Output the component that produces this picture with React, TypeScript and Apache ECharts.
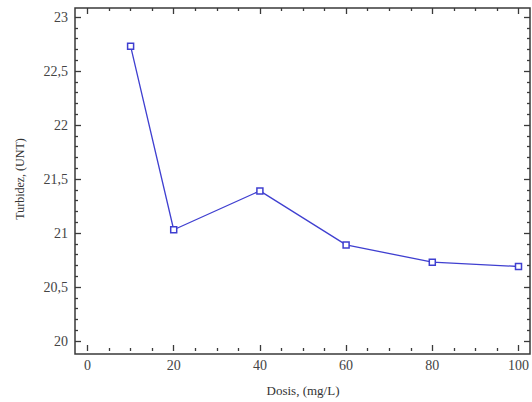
import React, { useEffect, useRef } from "react";
import * as echarts from "echarts";

const dosis = [10, 20, 40, 60, 80, 100];
const turbidez = [22.73, 21.03, 21.39, 20.89, 20.73, 20.69];
const xTicks = { min: 0, max: 100, interval: 20 };
const yTicks = { min: 20, max: 23, interval: 0.5 };

const FONT = "'Liberation Serif', 'DejaVu Serif', serif";
const AXIS = "#3a3a3a";
const LINE = "#3f3fd0";

export default function App() {
  const ref = useRef<HTMLDivElement>(null);
  useEffect(() => {
    if (!ref.current) return;
    const chart = echarts.init(ref.current, null, { renderer: "svg" });
    const fmt = (v: number) => String(v).replace(".", ",");
    const tickStyle = { color: AXIS, width: 1.3 };
    const hiddenLine = { show: false, onZero: false };
    chart.setOption({
      animation: false,
      backgroundColor: "#ffffff",
      grid: [
        { left: 87.5, right: 13.5, top: 17, bottom: 58, show: false },
        {
          left: 75,
          right: 2,
          top: 8,
          bottom: 48,
          show: true,
          borderColor: AXIS,
          borderWidth: 1.5,
          backgroundColor: "transparent",
        },
      ],
      xAxis: [
        {
          type: "value",
          gridIndex: 0,
          position: "bottom",
          offset: 10,
          min: xTicks.min,
          max: xTicks.max,
          interval: xTicks.interval,
          axisLine: hiddenLine,
          axisTick: { show: true, inside: true, length: 6, lineStyle: tickStyle },
          minorTick: { show: true, splitNumber: 4, length: 3, lineStyle: tickStyle },
          splitLine: { show: false },
          axisLabel: { color: "#444", fontFamily: FONT, fontSize: 14, margin: 7 },
          name: "Dosis, (mg/L)",
          nameLocation: "middle",
          nameGap: 33,
          nameTextStyle: { color: "#333", fontFamily: FONT, fontSize: 13 },
        },
        {
          type: "value",
          gridIndex: 0,
          position: "top",
          offset: 9,
          min: xTicks.min,
          max: xTicks.max,
          interval: xTicks.interval,
          axisLine: hiddenLine,
          axisTick: { show: true, inside: true, length: 6, lineStyle: tickStyle },
          minorTick: { show: true, splitNumber: 4, length: 3, lineStyle: tickStyle },
          splitLine: { show: false },
          axisLabel: { show: false },
        },
        { type: "value", gridIndex: 1, show: false, min: 0, max: 1 },
      ],
      yAxis: [
        {
          type: "value",
          gridIndex: 0,
          position: "left",
          offset: 12.5,
          min: yTicks.min,
          max: yTicks.max,
          interval: yTicks.interval,
          axisLine: hiddenLine,
          axisTick: { show: true, inside: true, length: 6, lineStyle: tickStyle },
          minorTick: { show: true, splitNumber: 5, length: 3, lineStyle: tickStyle },
          splitLine: { show: false },
          axisLabel: { color: "#444", fontFamily: FONT, fontSize: 14, margin: 7, formatter: fmt },
          name: "Turbidez, (UNT)",
          nameLocation: "middle",
          nameGap: 49,
          nameTextStyle: { color: "#333", fontFamily: FONT, fontSize: 12 },
        },
        {
          type: "value",
          gridIndex: 0,
          position: "right",
          offset: 11.5,
          min: yTicks.min,
          max: yTicks.max,
          interval: yTicks.interval,
          axisLine: hiddenLine,
          axisTick: { show: true, inside: true, length: 6, lineStyle: tickStyle },
          minorTick: { show: true, splitNumber: 5, length: 3, lineStyle: tickStyle },
          splitLine: { show: false },
          axisLabel: { show: false },
        },
        { type: "value", gridIndex: 1, show: false, min: 0, max: 1 },
      ],
      series: [
        {
          type: "line",
          xAxisIndex: 0,
          yAxisIndex: 0,
          data: dosis.map((d, i) => [d, turbidez[i]]),
          lineStyle: { color: LINE, width: 1.3 },
          symbol: "rect",
          symbolSize: 6,
          itemStyle: { color: "#ffffff", borderColor: LINE, borderWidth: 1.5 },
          clip: false,
        },
      ],
    });
    return () => chart.dispose();
  }, []);
  return <div ref={ref} style={{ width: 532, height: 402, position: "absolute", left: 0, top: 0 }} />;
}
